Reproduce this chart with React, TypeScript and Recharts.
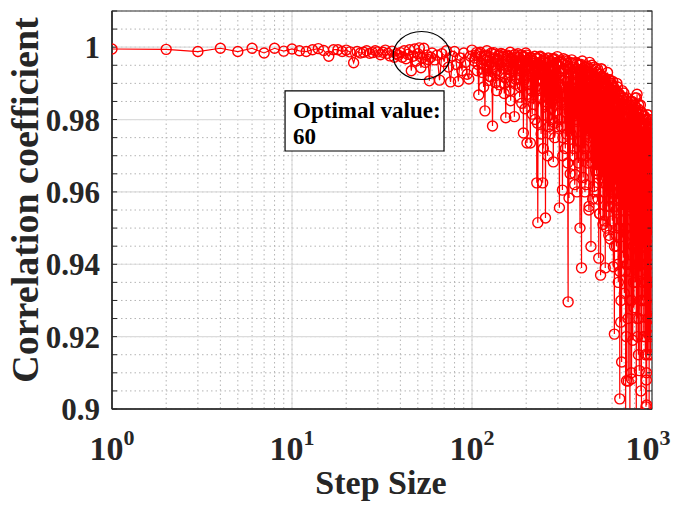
import { LineChart, Line, XAxis, YAxis, CartesianGrid, ReferenceArea, ReferenceDot } from 'recharts'

// correlation coefficient vs step size
// step 1..60 (every step)
const coefA = [
  0.9995, 0.9994, 0.9988, 0.9997, 0.9988, 0.9997, 0.9984, 0.9997, 0.9989, 0.9995,
  0.999, 0.9988, 0.9993, 0.9996, 0.9991, 0.9975, 0.9993, 0.9993, 0.9988, 0.9992,
  0.9987, 0.9957, 0.9988, 0.9984, 0.9986, 0.999, 0.9983, 0.9985, 0.999, 0.9987,
  0.9979, 0.9986, 0.9992, 0.9983, 0.9976, 0.9989, 0.9972, 0.9982, 0.9978, 0.9985,
  0.9972, 0.999, 0.9968, 0.998, 0.9993, 0.9935, 0.9975, 0.9995, 0.9962, 0.9982,
  0.9998, 0.9943, 0.997, 0.9997, 0.9958, 0.9978, 0.9966, 0.9907, 0.9972, 0.9984,
]
// step 62..100 (every 2nd)
const coefB = [
  0.9965, 0.9978, 0.9909, 0.9982, 0.996, 0.999, 0.9945, 0.9904, 0.9975, 0.9988,
  0.9952, 0.9905, 0.997, 0.9935, 0.9984, 0.9958, 0.9925, 0.9912, 0.9975, 0.9992,
]
// step 103..298 (every 3rd)
const coefC = [
  0.9962, 0.9985, 0.9868, 0.9975, 0.994, 0.9824, 0.999, 0.9952, 0.9918, 0.9782,
  0.998, 0.9935, 0.9965, 0.9896, 0.9983, 0.9942, 0.9872, 0.9805, 0.9978, 0.993,
  0.9986, 0.9905, 0.9958, 0.9808, 0.9972, 0.9915, 0.995, 0.9862, 0.9978, 0.9893,
  0.9763, 0.9945, 0.9984, 0.9735, 0.992, 0.9968, 0.9735, 0.988, 0.9955, 0.9842,
  0.9975, 0.9905, 0.9625, 0.9515, 0.994, 0.9973, 0.9858, 0.9912, 0.9625, 0.9962,
  0.988, 0.9528, 0.9948, 0.981, 0.997, 0.9895, 0.976, 0.9935, 0.985, 0.9968,
  0.9683, 0.991, 0.979, 0.9955, 0.987, 0.9974,
]
// step 104..299 (every 3rd)
const coefC3 = [
  0.997, 0.9935, 0.9982, 0.9955, 0.989, 0.9975, 0.996, 0.992, 0.9984, 0.9945,
  0.9968, 0.988, 0.9975, 0.995, 0.993, 0.998, 0.99, 0.9962, 0.9975, 0.9938,
  0.9852, 0.9968, 0.9945, 0.998, 0.991, 0.9955, 0.9972, 0.989, 0.996, 0.9935,
  0.9975, 0.983, 0.995, 0.9965, 0.99, 0.994, 0.9972, 0.986, 0.993, 0.996,
  0.98, 0.9945, 0.997, 0.988, 0.9925, 0.9958, 0.976, 0.994, 0.9905, 0.9968,
  0.985, 0.993, 0.9955, 0.97, 0.9915, 0.996, 0.987, 0.9935, 0.98, 0.995,
  0.99, 0.9968, 0.984, 0.992, 0.9955, 0.978,
]
// step 105..300 (every 3rd)
const coefC2 = [
  0.9978, 0.9952, 0.9986, 0.993, 0.9965, 0.9978, 0.9908, 0.9972, 0.995, 0.9985,
  0.9902, 0.9968, 0.9979, 0.9925, 0.996, 0.9975, 0.9915, 0.9968, 0.9948, 0.988,
  0.997, 0.9935, 0.9978, 0.9898, 0.9962, 0.9982, 0.9925, 0.9955, 0.9845, 0.9972,
  0.991, 0.996, 0.9978, 0.987, 0.9948, 0.9925, 0.997, 0.9815, 0.9962, 0.9935,
  0.989, 0.9968, 0.979, 0.9952, 0.9912, 0.9975, 0.986, 0.9945, 0.972, 0.993,
  0.9965, 0.984, 0.992, 0.9958, 0.978, 0.9905, 0.9962, 0.983, 0.994, 0.988,
  0.9965, 0.975, 0.9925, 0.986, 0.995, 0.99,
]
// step 302..598 (every 4th)
const coefD = [
  0.996, 0.9556, 0.9935, 0.978, 0.9605, 0.9968, 0.989, 0.972, 0.995, 0.9842,
  0.9296, 0.9583, 0.994, 0.9812, 0.9965, 0.97, 0.9925, 0.9868, 0.9648, 0.9958,
  0.9795, 0.991, 0.968, 0.9952, 0.95,
  0.993, 0.939, 0.9962, 0.983, 0.972, 0.9945, 0.988, 0.962, 0.9935, 0.976,
  0.9905, 0.955, 0.9958, 0.9845, 0.9449, 0.992, 0.97, 0.989, 0.9615, 0.9945,
  0.98, 0.966, 0.991, 0.9735, 0.994,
  0.958, 0.9417, 0.9925, 0.986, 0.937, 0.994, 0.976, 0.988, 0.951, 0.9915,
  0.969, 0.983, 0.939, 0.99, 0.964, 0.978, 0.993, 0.956, 0.985, 0.971,
  0.991, 0.947, 0.982, 0.96, 0.9895,
]
// step 303..599 (every 4th)
const coefD3 = [
  0.992, 0.98, 0.9958, 0.987, 0.97, 0.9935, 0.984, 0.996, 0.976, 0.9905,
  0.9945, 0.982, 0.965, 0.9925, 0.988, 0.9955, 0.972, 0.989, 0.994, 0.98,
  0.96, 0.992, 0.986, 0.995, 0.974,
  0.99, 0.9938, 0.978, 0.964, 0.9915, 0.985, 0.9945, 0.97, 0.988, 0.9925,
  0.977, 0.956, 0.9905, 0.984, 0.994, 0.968, 0.987, 0.9915, 0.975, 0.96,
  0.9895, 0.983, 0.993, 0.966, 0.986,
  0.991, 0.972, 0.954, 0.988, 0.98, 0.992, 0.964, 0.985, 0.99, 0.97,
  0.952, 0.987, 0.978, 0.991, 0.962, 0.984, 0.989, 0.968, 0.948, 0.986,
  0.976, 0.99, 0.958, 0.982, 0.988,
]
// step 304..600 (every 4th)
const coefD2 = [
  0.993, 0.985, 0.9962, 0.989, 0.975, 0.994, 0.9822, 0.9965, 0.987, 0.968,
  0.9925, 0.985, 0.9958, 0.976, 0.99, 0.9945, 0.981, 0.962, 0.993, 0.986,
  0.9955, 0.974, 0.989, 0.9935, 0.983,
  0.9952, 0.97, 0.9905, 0.994, 0.979, 0.96, 0.992, 0.986, 0.9948, 0.968,
  0.988, 0.993, 0.975, 0.991, 0.982, 0.995, 0.958, 0.986, 0.992, 0.972,
  0.9895, 0.994, 0.965, 0.985, 0.9915,
  0.976, 0.988, 0.954, 0.9925, 0.98, 0.994, 0.968, 0.986, 0.9905, 0.96,
  0.983, 0.9915, 0.972, 0.987, 0.95, 0.9895, 0.978, 0.965, 0.991, 0.982,
  0.956, 0.988, 0.974, 0.99, 0.962,
]
// step 602..998 (every 4th)
const coefE = [
  0.952, 0.9905, 0.9393, 0.976, 0.9207, 0.988, 0.964, 0.982, 0.945, 0.99,
  0.958, 0.978, 0.935, 0.987, 0.969, 0.9028, 0.985, 0.924, 0.974, 0.913,
  0.988, 0.955, 0.981, 0.942, 0.9873,
  0.932, 0.984, 0.96, 0.895, 0.98, 0.9078, 0.986, 0.948, 0.975, 0.9077,
  0.983, 0.956, 0.97, 0.892, 0.985, 0.938, 0.979, 0.9083, 0.962, 0.984,
  0.919, 0.972, 0.945, 0.928, 0.981,
  0.953, 0.986, 0.935, 0.976, 0.888, 0.982, 0.987, 0.942, 0.97, 0.96,
  0.98, 0.925, 0.9106, 0.976, 0.95, 0.984, 0.93, 0.968, 0.897, 0.98,
  0.942, 0.962, 0.978, 0.92, 0.972,
  0.945, 0.981, 0.93, 0.968, 0.915, 0.976, 0.9006, 0.908, 0.9011, 0.974,
  0.935, 0.965, 0.9813, 0.925, 0.96, 0.9205, 0.972, 0.94, 0.955, 0.978,
  0.915, 0.9283, 0.97, 0.948, 0.976,
]
// step 603..999 (every 4th)
const coefE3 = [
  0.98, 0.96, 0.988, 0.97, 0.945, 0.985, 0.975, 0.955, 0.988, 0.965,
  0.982, 0.95, 0.976, 0.987, 0.96, 0.938, 0.983, 0.97, 0.984, 0.952,
  0.978, 0.965, 0.986, 0.942, 0.975,
  0.983, 0.96, 0.938, 0.98, 0.97, 0.95, 0.984, 0.965, 0.925, 0.978,
  0.982, 0.955, 0.972, 0.94, 0.98, 0.968, 0.985, 0.93, 0.975, 0.96,
  0.982, 0.945, 0.97, 0.983, 0.955,
  0.978, 0.935, 0.97, 0.982, 0.96, 0.948, 0.98, 0.968, 0.92, 0.976,
  0.984, 0.955, 0.972, 0.94, 0.98, 0.965, 0.93, 0.976, 0.982, 0.95,
  0.97, 0.978, 0.935, 0.965, 0.98,
  0.955, 0.972, 0.94, 0.978, 0.96, 0.98, 0.93, 0.97, 0.95, 0.976,
  0.965, 0.915, 0.974, 0.98, 0.945, 0.96, 0.978, 0.935, 0.97, 0.955,
  0.979, 0.925, 0.968, 0.976, 0.96,
]
// step 604..1000 (every 4th)
const coefE2 = [
  0.986, 0.97, 0.989, 0.956, 0.98, 0.988, 0.962, 0.948, 0.985, 0.974,
  0.989, 0.94, 0.982, 0.966, 0.987, 0.95, 0.978, 0.93, 0.986, 0.97,
  0.96, 0.984, 0.945, 0.976, 0.986,
  0.97, 0.983, 0.95, 0.979, 0.92, 0.985, 0.965, 0.94, 0.981, 0.972,
  0.955, 0.984, 0.93, 0.976, 0.962, 0.982, 0.91, 0.97, 0.985, 0.948,
  0.977, 0.935, 0.98, 0.96, 0.984,
  0.97, 0.942, 0.981, 0.958, 0.986, 0.925, 0.976, 0.965, 0.983, 0.915,
  0.972, 0.95, 0.98, 0.938, 0.968, 0.982, 0.905, 0.974, 0.956, 0.979,
  0.93, 0.97, 0.96, 0.981, 0.945,
  0.976, 0.955, 0.92, 0.979, 0.965, 0.935, 0.98, 0.91, 0.97, 0.95,
  0.9813, 0.925, 0.968, 0.978, 0.94, 0.89, 0.972, 0.96, 0.92, 0.977,
  0.965, 0.935, 0.974, 0.955, 0.98,
]

const xMajor = [1, 10, 100, 1000]
const xAll = [
  1, 2, 3, 4, 5, 6, 7, 8, 9, 10, 20, 30, 40, 50, 60, 70, 80, 90,
  100, 200, 300, 400, 500, 600, 700, 800, 900, 1000,
]
const yMajor = [0.9, 0.92, 0.94, 0.96, 0.98, 1]
const yAll = [
  0.9, 0.905, 0.91, 0.915, 0.92, 0.925, 0.93, 0.935, 0.94, 0.945, 0.95, 0.955,
  0.96, 0.965, 0.97, 0.975, 0.98, 0.985, 0.99, 0.995, 1, 1.005, 1.01,
]

const seg = (start: number, step: number, vals: number[]) =>
  vals.map((v, i) => ({ x: start + i * step, y: v }))

const data = [
  ...seg(1, 1, coefA),
  ...seg(62, 2, coefB),
  ...seg(103, 3, coefC),
  ...seg(104, 3, coefC3),
  ...seg(105, 3, coefC2),
  ...seg(302, 4, coefD),
  ...seg(303, 4, coefD3),
  ...seg(304, 4, coefD2),
  ...seg(602, 4, coefE),
  ...seg(603, 4, coefE3),
  ...seg(604, 4, coefE2),
].sort((a, b) => a.x - b.x)

const FONT = '"Liberation Serif", "Times New Roman", serif'
const INK = '#262626'
const noTick = () => <g />

function XTick({ x, y, payload }: any) {
  const exp = Math.round(Math.log10(payload.value))
  // last label sits on the right edge, nudge it in a little
  const dx = exp === 3 ? -4 : 0
  return (
    <text x={x + dx} y={y + 49} textAnchor="middle" fontFamily={FONT} fontWeight="bold" fontSize={34} fill={INK}>
      <tspan>10</tspan>
      <tspan dy={-15} fontSize={22}>{exp}</tspan>
    </text>
  )
}

function YTitle({ viewBox }: any) {
  const cx = viewBox.x + 6
  const cy = viewBox.y + viewBox.height / 2 - 10
  return (
    <text x={cx} y={cy} transform={`rotate(-90, ${cx}, ${cy})`} textAnchor="middle"
      fontFamily={FONT} fontWeight="bold" fontSize={38} fill={INK}>
      Correlation coefficient
    </text>
  )
}

function XTitle({ viewBox }: any) {
  return (
    <text x={viewBox.x + viewBox.width / 2 - 1} y={viewBox.y + 85} textAnchor="middle"
      fontFamily={FONT} fontWeight="bold" fontSize={34} fill={INK}>
      Step Size
    </text>
  )
}

function BoxLabel({ viewBox }: any) {
  return (
    <text fontFamily={FONT} fontWeight="bold" fontSize={23} fill="#000">
      <tspan x={viewBox.x + 8} y={viewBox.y + 27}>Optimal value:</tspan>
      <tspan x={viewBox.x + 8} y={viewBox.y + 53}>60</tspan>
    </text>
  )
}

export default function App() {
  return (
    <div style={{ position: 'absolute', left: 0, top: 0, background: '#fff' }}>
      <LineChart width={673} height={506} data={data} margin={{ top: 11, right: 21, bottom: 37, left: 32 }}>
        <CartesianGrid
          xAxisId="x" yAxisId="y" stroke="#b4b4b4" strokeDasharray="1.5 3"
          verticalValues={xAll} horizontalValues={yAll}
        />
        <CartesianGrid xAxisId="x" yAxisId="y" stroke="#dcdcdc" strokeWidth={1.2} />
        <XAxis
          xAxisId="x" dataKey="x" type="number" scale="log" domain={[1, 1000]} allowDataOverflow
          ticks={xMajor} interval={0} tick={<XTick />} tickLine={false} tickSize={0} height={60}
          axisLine={{ stroke: INK, strokeWidth: 1.5 }}
          label={XTitle}
        />
        <YAxis
          yAxisId="y" type="number" domain={[0.9, 1.01]} allowDataOverflow
          ticks={yMajor} interval={0} tickFormatter={(v: number) => String(v)}
          tick={{ fontSize: 31, fontFamily: FONT, fontWeight: 'bold', fill: INK }}
          tickLine={false} tickSize={0} tickMargin={12} width={80}
          axisLine={{ stroke: INK, strokeWidth: 1.5 }}
          label={YTitle}
        />
        <XAxis
          xAxisId="xb" type="number" scale="log" domain={[1, 1000]} allowDataOverflow
          ticks={xAll} interval={0} mirror tick={noTick} tickSize={5}
          tickLine={{ stroke: INK }} axisLine={false}
        />
        <XAxis
          xAxisId="xt" orientation="top" type="number" scale="log" domain={[1, 1000]} allowDataOverflow
          ticks={xAll} interval={0} mirror tick={noTick} tickSize={5}
          tickLine={{ stroke: INK }} axisLine={false}
        />
        <YAxis
          yAxisId="yl" type="number" domain={[0.9, 1.01]} allowDataOverflow
          ticks={yAll} interval={0} mirror tick={noTick} tickSize={5}
          tickLine={{ stroke: INK }} axisLine={false}
        />
        <YAxis
          yAxisId="yr" orientation="right" type="number" domain={[0.9, 1.01]} allowDataOverflow
          ticks={yAll} interval={0} mirror tick={noTick} tickSize={5}
          tickLine={{ stroke: INK }} axisLine={false}
        />
        <ReferenceArea
          xAxisId="x" yAxisId="y" x1={1} x2={1000} y1={0.9} y2={1.01}
          fill="none" stroke="#3a3a3a" strokeWidth={1.2}
        />
        <Line
          xAxisId="x" yAxisId="y" dataKey="y" type="linear" stroke="#ff0000" strokeWidth={1.2}
          dot={{ r: 5, stroke: '#ff0000', strokeWidth: 1.4, fill: 'none' }}
          isAnimationActive={false}
        />
        <ReferenceArea
          xAxisId="x" yAxisId="y" x1={9.15} x2={69.9} y1={0.9713} y2={0.9879}
          fill="#fff" fillOpacity={1} stroke="#000" strokeWidth={1.2}
          label={BoxLabel}
        />
        <ReferenceDot
          xAxisId="x" yAxisId="y" x={52.5} y={0.9977}
          shape={(p: any) => (
            <ellipse cx={p.cx} cy={p.cy} rx={28.5} ry={24} fill="none" stroke="#000" strokeWidth={1.2} />
          )}
        />
      </LineChart>
    </div>
  )
}
